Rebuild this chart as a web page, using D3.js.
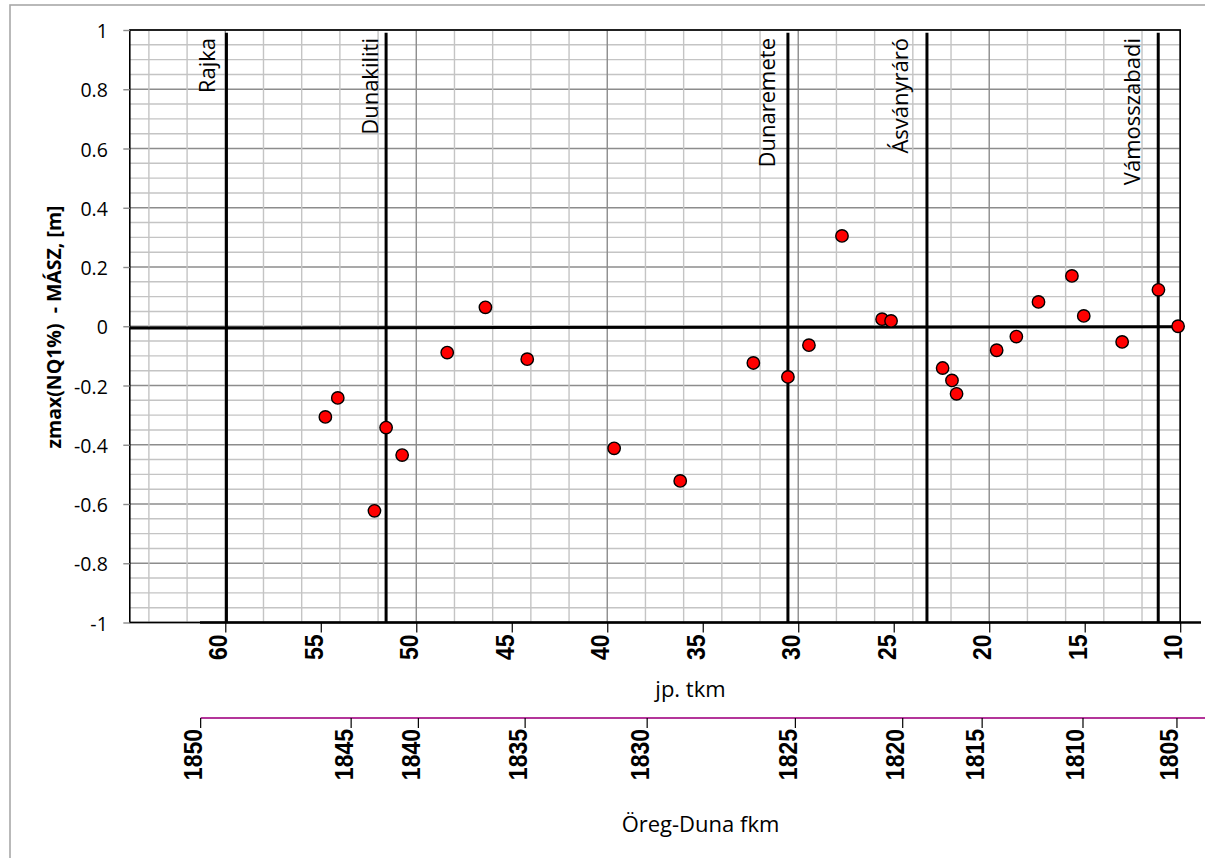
<!DOCTYPE html>
<html>
<head>
<meta charset="utf-8">
<script src="https://cdn.jsdelivr.net/npm/d3@7"></script>
<style>
  html, body { margin: 0; padding: 0; background: #fff; }
  svg { display: block; }
  text { font-family: "Open Sans", "DejaVu Sans", sans-serif; fill: #000; }
</style>
</head>
<body>
<svg id="chart" width="1205" height="858"></svg>
<script>
// Measurement points: jp. tkm position and zmax(NQ1%) - MÁSZ difference [m]
const pointKm = [54.76, 54.11, 51.58, 50.74, 52.19, 48.38, 46.38, 44.19, 39.64, 36.18,
                 32.35, 30.54, 29.44, 27.71, 25.61, 25.14, 22.44, 21.95, 21.71, 19.61,
                 18.58, 17.42, 15.67, 15.05, 13.04, 11.14, 10.11];
const pointDiff = [-0.306, -0.242, -0.342, -0.435, -0.623, -0.089, 0.064, -0.111, -0.412, -0.522,
                   -0.124, -0.171, -0.064, 0.305, 0.024, 0.018, -0.141, -0.183, -0.228, -0.081,
                   -0.035, 0.082, 0.170, 0.035, -0.053, 0.123, 0.000];

// Gauging stations along the reach
const stationNames = ["Rajka", "Dunakiliti", "Dunaremete", "Ásványráró", "Vámosszabadi"];
const stationKm = [59.94, 51.58, 30.54, 23.26, 11.15];
const stationLabelKm = [60.54, 52.02, 31.20, 24.23, 12.08];

// Reference (zero) line
const zeroLineKm = [65, 10];
const zeroLineDiff = [-0.006, -0.002];

// Axis ticks
const kmTicks = [60, 55, 50, 45, 40, 35, 30, 25, 20, 15, 10];
const diffTicks = [1, 0.8, 0.6, 0.4, 0.2, 0, -0.2, -0.4, -0.6, -0.8, -1];
const fkmTicks = [1850, 1845, 1840, 1835, 1830, 1825, 1820, 1815, 1810, 1805];
const fkmAtKm = [61.29, 53.41, 49.89, 44.30, 37.91, 30.15, 24.53, 20.37, 15.09, 10.17];

const svg = d3.select("#chart");

const plot = { left: 129.8, right: 1180.2, top: 30, bottom: 622.5 };

const x = d3.scaleLinear().domain([65, 10]).range([plot.left, plot.right]);
const y = d3.scaleLinear().domain([-1, 1]).range([plot.bottom, plot.top]);

// outer frame
svg.append("rect")
  .attr("x", 10).attr("y", 5)
  .attr("width", 1300).attr("height", 900)
  .attr("fill", "none").attr("stroke", "#a8a8a8").attr("stroke-width", 1.6);

// grid
const grid = svg.append("g");
const hMinor = d3.range(-1, 1.0001, 0.05).map(v => +v.toFixed(2));
grid.selectAll("line.hg").data(hMinor).join("line")
  .attr("x1", plot.left).attr("x2", plot.right)
  .attr("y1", d => y(d)).attr("y2", d => y(d))
  .attr("stroke", d => (Math.abs(Math.round(d * 100)) % 20 === 0) ? "#8c8c8c" : "#c4c4c4")
  .attr("stroke-width", 1.4);
const vMinor = d3.range(64, 9, -2);
grid.selectAll("line.vg").data(vMinor).join("line")
  .attr("y1", plot.top).attr("y2", plot.bottom)
  .attr("x1", d => x(d)).attr("x2", d => x(d))
  .attr("stroke", d => d % 10 === 0 ? "#8c8c8c" : "#c4c4c4")
  .attr("stroke-width", 1.4);

// plot border
svg.append("rect")
  .attr("x", plot.left).attr("y", plot.top)
  .attr("width", plot.right - plot.left).attr("height", plot.bottom - plot.top)
  .attr("fill", "none").attr("stroke", "#000").attr("stroke-width", 1.6);

// y axis
const yAxis = svg.append("g")
  .attr("transform", `translate(${plot.left},0)`)
  .call(d3.axisLeft(y).tickValues(diffTicks).tickSize(6.5).tickFormat(d => String(d)));
yAxis.select(".domain").remove();
yAxis.selectAll(".tick line").attr("stroke", "#8c8c8c").attr("stroke-width", 1.4);
yAxis.selectAll(".tick text")
  .attr("x", -22).attr("dy", null).attr("y", 7.6)
  .style("font-family", '"Open Sans", sans-serif')
  .style("font-size", "19.5px")
  .attr("text-anchor", "end");

// y axis title
svg.append("text")
  .attr("transform", "translate(61,327) rotate(-90)")
  .attr("text-anchor", "middle")
  .style("font-size", "19.5px")
  .style("font-weight", "bold")
  .style("white-space", "pre")
  .text("zmax(NQ1%)  - MÁSZ, [m]");

// station lines and labels
svg.append("g").selectAll("line").data(stationKm).join("line")
  .attr("x1", d => x(d)).attr("x2", d => x(d))
  .attr("y1", 32.7).attr("y2", plot.bottom)
  .attr("stroke", "#000").attr("stroke-width", 3);
svg.append("g").selectAll("text").data(stationNames).join("text")
  .attr("transform", (d, i) => `translate(${x(stationLabelKm[i])},38) rotate(-90)`)
  .attr("text-anchor", "end")
  .style("font-size", "22px")
  .text(d => d);

// zero line
svg.append("line")
  .attr("x1", x(zeroLineKm[0])).attr("x2", x(zeroLineKm[1]))
  .attr("y1", y(zeroLineDiff[0])).attr("y2", y(zeroLineDiff[1]))
  .attr("stroke", "#000").attr("stroke-width", 3);

// jp. tkm axis
svg.append("line")
  .attr("x1", 200).attr("x2", 1201)
  .attr("y1", plot.bottom).attr("y2", plot.bottom)
  .attr("stroke", "#000").attr("stroke-width", 2.4);
const xAxis = svg.append("g")
  .attr("transform", `translate(0,${plot.bottom})`)
  .call(d3.axisBottom(x).tickValues(kmTicks).tickSize(10).tickFormat(d => String(d)));
xAxis.select(".domain").remove();
xAxis.selectAll(".tick line").attr("stroke", "#000").attr("stroke-width", 1.2);
xAxis.selectAll(".tick text")
  .attr("x", null).attr("y", null).attr("dy", null)
  .attr("transform", "translate(1.5,12) rotate(-90) scale(1,1.1)")
  .attr("text-anchor", "end")
  .style("font-family", '"Liberation Sans", Arial, sans-serif')
  .style("font-weight", "bold")
  .style("font-size", "23px");

svg.append("text")
  .attr("x", 690.5).attr("y", 697)
  .attr("text-anchor", "middle")
  .style("font-size", "22px")
  .text("jp. tkm");

// Öreg-Duna fkm axis
const fkmY = 718;
svg.append("line")
  .attr("x1", x(fkmAtKm[0])).attr("x2", 1210)
  .attr("y1", fkmY).attr("y2", fkmY)
  .attr("stroke", "#b4359a").attr("stroke-width", 2);
const fkmG = svg.append("g").selectAll("g").data(fkmTicks).join("g")
  .attr("transform", (d, i) => `translate(${x(fkmAtKm[i])},${fkmY})`);
fkmG.append("line")
  .attr("y1", 0).attr("y2", 10)
  .attr("stroke", "#000").attr("stroke-width", 1.2);
fkmG.append("text")
  .attr("transform", "translate(1.5,11) rotate(-90) scale(1,1.1)")
  .attr("text-anchor", "end")
  .style("font-family", '"Liberation Sans", Arial, sans-serif')
  .style("font-weight", "bold")
  .style("font-size", "23px")
  .text(d => String(d));

svg.append("text")
  .attr("x", 700.5).attr("y", 832)
  .attr("text-anchor", "middle")
  .style("font-size", "22px")
  .text("Öreg-Duna fkm");

// measurement points
svg.append("g").selectAll("circle").data(pointKm).join("circle")
  .attr("cx", d => x(d))
  .attr("cy", (d, i) => y(pointDiff[i]))
  .attr("r", 6.2)
  .attr("fill", "#ff0000")
  .attr("stroke", "#000")
  .attr("stroke-width", 1.4);
</script>
</body>
</html>
